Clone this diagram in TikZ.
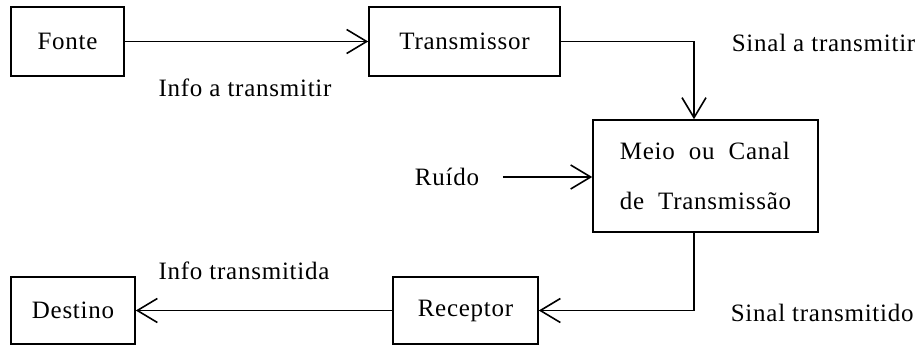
\documentclass[tikz,border=0pt]{standalone}
\usepackage{fontspec}
\setmainfont{Liberation Serif}[LetterSpace=3]
\usetikzlibrary{arrows.meta}

\begin{document}
\begin{tikzpicture}[x=1pt,y=-1pt,->,>={Straight Barb[length=20pt,width=24pt]},line width=1.6pt,
    font=\fontsize{25}{30}\selectfont,
    box/.style={draw,-,rectangle,inner sep=0pt},
    lbl/.style={inner sep=0pt}]

\useasboundingbox (0,0) rectangle (916,345);

\node[box,minimum width=113pt,minimum height=69pt] (fonte) at (67.5,41.5) {Fonte};
\node[box,minimum width=191pt,minimum height=69pt] (trans) at (464.5,41.5) {Transmissor};
\node[box,minimum width=225pt,minimum height=112pt,align=left] (meio) at (705.5,176)
    {Meio\ \ ou\ \ Canal\\[20pt]de\ \ Transmissão};
\node[box,minimum width=145pt,minimum height=67pt] (recep) at (465.5,310.5) {Receptor};
\node[box,minimum width=124pt,minimum height=67pt] (dest) at (73,310.5) {Destino};

\node[lbl] (infoa) at (245,88) {Info a transmitir};
\node[lbl,anchor=west] (sinala) at (731,43) {Sinal a transmitir};
\node[lbl] (ruido) at (447,177) {Ruído};
\node[lbl] (infot) at (244,271) {Info transmitida};
\node[lbl,anchor=west] (sinalt) at (730,313) {Sinal transmitido};

\draw (fonte) -- (trans);
\draw (trans) -| ([xshift=-11.5pt]meio.north);
\draw[shorten <=23pt] (ruido.east) -- (ruido.east -| meio.west);
\draw ([xshift=-11.5pt]meio.south) |- (recep);
\draw (recep) -- (dest);

\end{tikzpicture}
\end{document}
